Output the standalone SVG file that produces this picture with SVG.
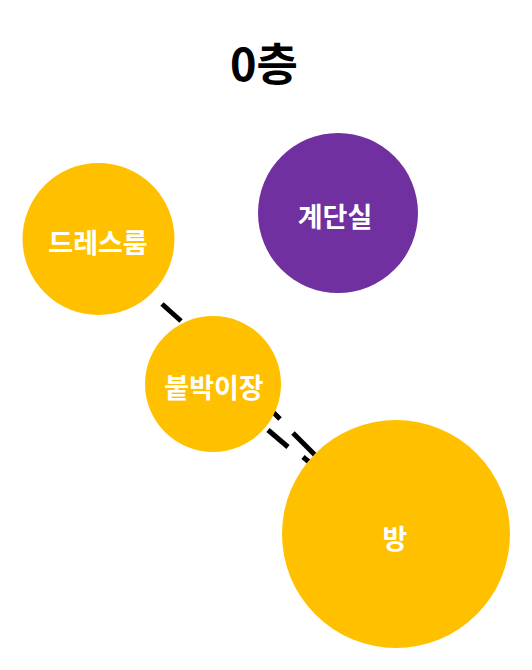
<svg xmlns="http://www.w3.org/2000/svg" width="532" height="670" viewBox="0 0 532 670">
<style>
.lbl{font-family:"Noto Sans CJK KR","Noto Sans",sans-serif;font-weight:bold;font-size:27px;fill:#FFFFFF;text-anchor:middle;dominant-baseline:central}
.title{font-family:"Noto Sans CJK KR","Noto Sans",sans-serif;font-weight:bold;font-size:45px;fill:#000000;text-anchor:middle}
.edge{stroke:#000000;stroke-width:5;fill:none;stroke-linecap:butt}
.y{fill:#FFC000}
.p{fill:#7030A0}
</style>
<rect width="532" height="670" fill="#FFFFFF"/>
<text class="title" x="264" y="81">0층</text>
<g id="connectors">
<line class="edge" x1="162" y1="304" x2="181" y2="321"/>
<line class="edge" x1="266" y1="405" x2="280" y2="419"/>
<line class="edge" x1="293" y1="433" x2="316" y2="456"/>
<line class="edge" x1="268" y1="430" x2="288" y2="447"/>
<line class="edge" x1="303" y1="457" x2="314" y2="466"/>
</g>
<g id="dressroom">
<circle class="y" cx="98.5" cy="239" r="76"/>
<text class="lbl" x="98" y="241">드레스룸</text>
</g>
<g id="stairwell">
<circle class="p" cx="338" cy="213" r="80"/>
<text class="lbl" x="335" y="215">계단실</text>
</g>
<g id="closet">
<circle class="y" cx="213" cy="384" r="68"/>
<text class="lbl" x="214" y="386">붙박이장</text>
</g>
<g id="room">
<circle class="y" cx="396" cy="534" r="114"/>
<text class="lbl" x="395" y="537">방</text>
</g>
</svg>
